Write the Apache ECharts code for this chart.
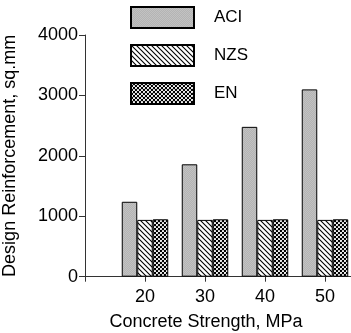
<!DOCTYPE html>
<html>
<head>
<meta charset="utf-8">
<script src="https://cdn.jsdelivr.net/npm/echarts@6/dist/echarts.min.js"></script>
<style>html,body{margin:0;padding:0;background:#fff}#c{width:351px;height:333px}</style>
</head>
<body>
<div id="c"></div>
<script>
var categories = ['', '20', '30', '40', '50', ''];
var seriesNames = ['ACI', 'NZS', 'EN'];
var aciValues = [null, 1240, 1860, 2480, 3100, null];
var nzsValues = [null, 940, 940, 940, 940, null];
var enValues = [null, 950, 950, 950, 950, null];
var yTicks = [0, 1000, 2000, 3000, 4000];
var xTitle = 'Concrete Strength, MPa';
var yTitle = 'Design Reinforcement, sq.mm';

function makeTile(size, draw) {
  var c = document.createElement('canvas');
  c.width = size; c.height = size;
  var ctx = c.getContext('2d');
  draw(ctx, size);
  return c;
}
var grayTile = makeTile(2, function (ctx) {
  ctx.fillStyle = '#b4b4b4'; ctx.fillRect(0, 0, 2, 2);
  ctx.fillStyle = '#c2c2c2'; ctx.fillRect(0, 0, 1, 1); ctx.fillRect(1, 1, 1, 1);
});
var hatchTile = makeTile(5, function (ctx, s) {
  ctx.fillStyle = '#fff'; ctx.fillRect(0, 0, s, s);
  ctx.strokeStyle = '#000'; ctx.lineWidth = 1.1;
  ctx.beginPath();
  ctx.moveTo(-1, -1); ctx.lineTo(s + 1, s + 1);
  ctx.moveTo(-1, s - 1); ctx.lineTo(1, s + 1);
  ctx.moveTo(s - 1, -1); ctx.lineTo(s + 1, 1);
  ctx.stroke();
});
var checkTile = makeTile(4, function (ctx) {
  ctx.fillStyle = '#000'; ctx.fillRect(0, 0, 4, 4);
  ctx.fillStyle = '#fff';
  ctx.beginPath(); ctx.arc(1, 1, 1.1, 0, Math.PI * 2); ctx.fill();
  ctx.beginPath(); ctx.arc(3, 3, 1.1, 0, Math.PI * 2); ctx.fill();
});
var fills = [
  { image: grayTile, repeat: 'repeat' },
  { image: hatchTile, repeat: 'repeat' },
  { image: checkTile, repeat: 'repeat' }
];
var valueSets = [aciValues, nzsValues, enValues];

var chart = echarts.init(document.getElementById('c'), null, { renderer: 'canvas' });
var fontFam = 'Liberation Sans, Arial, sans-serif';
chart.setOption({
  animation: false,
  backgroundColor: '#fff',
  textStyle: { fontFamily: fontFam },
  grid: { left: 85, top: 35, width: 300, height: 241.7, containLabel: false, outerBoundsMode: 'none' },
  legend: {
    orient: 'vertical', left: 125, top: 1,
    itemWidth: 63, itemHeight: 21, itemGap: 15,
    icon: 'rect',
    data: seriesNames,
    textStyle: { fontSize: 17, color: '#000', fontFamily: fontFam, padding: [0, 0, 0, 15] }
  },
  xAxis: {
    type: 'category', data: categories, boundaryGap: false,
    axisLine: { lineStyle: { color: '#333', width: 1 } },
    axisTick: { show: true, length: 5, lineStyle: { color: '#333' } },
    axisLabel: { fontSize: 18, color: '#000', margin: 11, fontFamily: fontFam },
    splitLine: { show: false }
  },
  yAxis: {
    type: 'value', min: yTicks[0], max: yTicks[yTicks.length - 1], interval: 1000,
    name: yTitle, nameLocation: 'middle', nameGap: 66,
    nameTextStyle: { fontSize: 18, color: '#000', fontFamily: fontFam },
    axisLine: { show: true, lineStyle: { color: '#333', width: 1 } },
    axisTick: { show: true, length: 6, lineStyle: { color: '#333' } },
    axisLabel: { fontSize: 18, color: '#000', margin: 7, fontFamily: fontFam, formatter: function (v) { return String(v); } },
    splitLine: { show: false }
  },
  graphic: [{
    type: 'text', x: 206, y: 322,
    style: { text: xTitle, fontSize: 18, fill: '#000', fontFamily: fontFam, align: 'center', verticalAlign: 'middle' }
  }],
  series: seriesNames.map(function (n, i) {
    return {
      name: n, type: 'bar', data: valueSets[i],
      barWidth: 15.5, barGap: '0%',
      itemStyle: { color: fills[i], borderColor: '#000', borderWidth: 1 }
    };
  })
});
</script>
</body>
</html>
